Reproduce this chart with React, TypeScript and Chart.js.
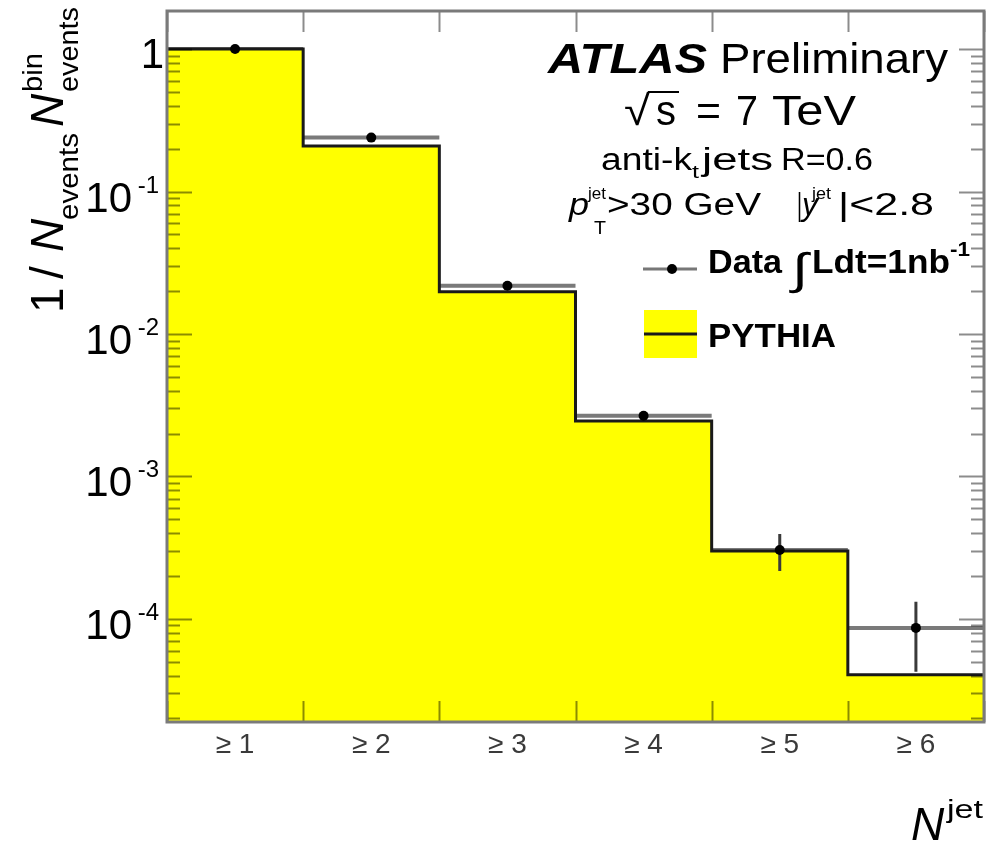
import React, { useEffect, useRef } from "react";
import { Chart, registerables } from "chart.js";

Chart.register(...registerables);

// ---------------- data ----------------
const categories = ["≥ 1", "≥ 2", "≥ 3", "≥ 4", "≥ 5", "≥ 6"];
const pythiaValues = [1.0, 0.209, 0.0198, 0.00245, 3.0e-4, 4.05e-5];
const dataValues = [1.0, 0.239, 0.0218, 0.00267, 3.05e-4, 8.65e-5];
const dataErrLow = [0.99, 0.233, 0.0212, 0.00257, 2.17e-4, 4.25e-5];
const dataErrHigh = [1.01, 0.245, 0.0224, 0.00277, 3.95e-4, 1.32e-4];
const yMajorTicks = [1, 1e-1, 1e-2, 1e-3, 1e-4];
const yTickExponents = ["", "-1", "-2", "-3", "-4"];
const Y_MIN = 1.89e-5;
const Y_MAX = 1.85;

const FONT = '"Liberation Sans", Arial, Helvetica, sans-serif';
const fnt = (size: number, weight = "normal", style = "normal") =>
  `${style} ${weight} ${size}px ${FONT}`;

function drawFit(
  ctx: CanvasRenderingContext2D,
  text: string,
  x0: number,
  x1: number,
  baseline: number,
  font: string,
  color = "#000"
) {
  ctx.save();
  ctx.font = font;
  ctx.textAlign = "left";
  ctx.textBaseline = "alphabetic";
  const w = ctx.measureText(text).width || 1;
  ctx.translate(x0, baseline);
  ctx.scale((x1 - x0) / w, 1);
  ctx.fillStyle = color;
  ctx.fillText(text, 0, 0);
  ctx.restore();
}

function drawText(
  ctx: CanvasRenderingContext2D,
  text: string,
  x: number,
  y: number,
  font: string,
  align: CanvasTextAlign = "left",
  color = "#000"
) {
  ctx.save();
  ctx.font = font;
  ctx.textAlign = align;
  ctx.textBaseline = "alphabetic";
  ctx.fillStyle = color;
  ctx.fillText(text, x, y);
  ctx.restore();
}

const decorPlugin = {
  id: "atlasDecor",
  afterDraw(chart: any) {
    const ctx: CanvasRenderingContext2D = chart.ctx;
    const { left, right, top, bottom } = chart.chartArea;
    const xs = chart.scales.x;
    const ys = chart.scales.y;
    ctx.save();

    // ---- ticks (y: both sides, log minor) ----
    ctx.strokeStyle = "rgba(0,0,0,0.45)";
    ctx.lineWidth = 2;
    for (let d = -5; d <= 0; d++) {
      for (let m = 1; m <= 9; m++) {
        const v = m * Math.pow(10, d);
        if (v < Y_MIN || v > Y_MAX) continue;
        const y = Math.round(ys.getPixelForValue(v)) + 0.5;
        const len = m === 1 ? 25 : 13;
        ctx.beginPath();
        ctx.moveTo(left, y);
        ctx.lineTo(left + len, y);
        ctx.moveTo(right, y);
        ctx.lineTo(right - len, y);
        ctx.stroke();
      }
    }
    // x ticks at bin edges
    for (let i = 0; i <= categories.length; i++) {
      const x = Math.round(xs.getPixelForValue(i)) + 0.5;
      ctx.beginPath();
      ctx.moveTo(x, bottom);
      ctx.lineTo(x, bottom - 21);
      ctx.moveTo(x, top);
      ctx.lineTo(x, top + 21);
      ctx.stroke();
    }

    // ---- frame ----
    ctx.strokeStyle = "#7a7a7a";
    ctx.lineWidth = 3;
    ctx.strokeRect(left, top, right - left, bottom - top);

    // ---- y tick labels ----
    yMajorTicks.forEach((v, i) => {
      const y = ys.getPixelForValue(v);
      if (yTickExponents[i] === "") {
        drawText(ctx, "1", 164, y + 19, fnt(42), "right");
      } else {
        drawText(ctx, "10", 132, y + 20, fnt(42), "right");
        drawText(ctx, yTickExponents[i], 159, y + 1, fnt(24), "right");
      }
    });

    // ---- x tick labels ----
    categories.forEach((c, i) => {
      const x = xs.getPixelForValue(i + 0.5);
      drawText(ctx, c, x, 753, fnt(28), "center", "#3a3a3a");
    });

    // ---- x axis title N^jet ----
    drawText(ctx, "N", 911, 840, fnt(46, "normal", "italic"));
    drawFit(ctx, "jet", 947, 983, 818, fnt(26));

    // ---- y axis title (rotated) ----
    ctx.save();
    ctx.rotate(-Math.PI / 2);
    // rotated frame: screen x = v, screen y = -u
    const rt = (t: string, u: number, v: number, font: string) => {
      ctx.font = font;
      ctx.textAlign = "left";
      ctx.textBaseline = "alphabetic";
      ctx.fillStyle = "#000";
      ctx.fillText(t, u, v);
    };
    const rfit = (t: string, yBottom: number, yTop: number, v: number, font: string) => {
      ctx.save();
      ctx.font = font;
      ctx.textAlign = "left";
      ctx.textBaseline = "alphabetic";
      const w = ctx.measureText(t).width || 1;
      ctx.translate(-yBottom, v);
      ctx.scale((yBottom - yTop) / w, 1);
      ctx.fillStyle = "#000";
      ctx.fillText(t, 0, 0);
      ctx.restore();
    };
    rt("1", -313, 63, fnt(46));
    rt("/", -279, 63, fnt(46));
    rt("N", -252, 63, fnt(46, "normal", "italic"));
    rfit("events", 220, 133, 78, fnt(28));
    rt("N", -127, 63, fnt(46, "normal", "italic"));
    rfit("bin", 92, 53, 42, fnt(28));
    rfit("events", 92, 7, 78, fnt(28));
    ctx.restore();

    // ---- annotations ----
    drawFit(ctx, "ATLAS", 548, 707, 73, fnt(43, "bold", "italic"));
    drawFit(ctx, "Preliminary", 720, 948, 73, fnt(43));

    drawFit(ctx, "√", 624, 650, 125, fnt(42));
    ctx.strokeStyle = "#000";
    ctx.lineWidth = 2;
    ctx.beginPath();
    ctx.moveTo(648, 92);
    ctx.lineTo(679, 92);
    ctx.stroke();
    drawFit(ctx, "s", 656, 676, 125, fnt(42));
    drawFit(ctx, "=", 696, 721, 125, fnt(42));
    drawFit(ctx, "7", 736, 758, 125, fnt(42));
    drawFit(ctx, "TeV", 772, 856, 125, fnt(42));

    drawFit(ctx, "anti-k", 601, 692, 170, fnt(31));
    drawFit(ctx, "t", 692, 699, 178, fnt(19));
    drawFit(ctx, "jets", 702, 773, 170, fnt(31));
    drawFit(ctx, "R=0.6", 781, 873, 170, fnt(31));

    drawFit(ctx, "p", 569, 589, 215, fnt(31, "normal", "italic"));
    drawFit(ctx, "jet", 588, 606, 199, fnt(17));
    drawFit(ctx, "T", 594, 606, 234, fnt(18));
    drawFit(ctx, ">30 GeV", 607, 761, 215, fnt(31));
    drawFit(ctx, "|", 797, 802, 215, fnt(31));
    drawFit(ctx, "y", 802, 818, 215, fnt(31, "normal", "italic"));
    drawFit(ctx, "jet", 812, 831, 199, fnt(17));
    drawFit(ctx, "|<2.8", 838, 934, 215, fnt(31));

    // ---- legend ----
    ctx.strokeStyle = "#777";
    ctx.lineWidth = 3;
    ctx.beginPath();
    ctx.moveTo(643, 269);
    ctx.lineTo(697, 269);
    ctx.stroke();
    ctx.fillStyle = "#000";
    ctx.beginPath();
    ctx.arc(672, 269, 5, 0, Math.PI * 2);
    ctx.fill();
    drawFit(ctx, "Data", 708, 782, 273, fnt(33, "bold"));
    drawFit(ctx, "∫", 792, 808, 284, fnt(44));
    drawFit(ctx, "Ldt=1nb", 812, 950, 273, fnt(33, "bold"));
    drawFit(ctx, "-1", 950, 970, 256, fnt(20, "bold"));

    ctx.fillStyle = "#ffff00";
    ctx.fillRect(644, 310, 53, 48);
    ctx.strokeStyle = "#1a1a1a";
    ctx.lineWidth = 3;
    ctx.beginPath();
    ctx.moveTo(644, 334);
    ctx.lineTo(697, 334);
    ctx.stroke();
    drawFit(ctx, "PYTHIA", 708, 836, 347, fnt(33, "bold"));

    ctx.restore();
  },
};

export default function App() {
  const canvasRef = useRef<HTMLCanvasElement | null>(null);

  useEffect(() => {
    if (!canvasRef.current) return;

    const pythiaPoints: { x: number; y: number | null }[] = [];
    pythiaValues.forEach((v, i) => {
      pythiaPoints.push({ x: i, y: v }, { x: i + 1, y: v });
    });
    const dataLinePoints: { x: number; y: number | null }[] = [];
    dataValues.forEach((v, i) => {
      dataLinePoints.push({ x: i, y: v }, { x: i + 1, y: v }, { x: i + 1, y: null });
    });
    const errPoints: { x: number; y: number | null }[] = [];
    dataValues.forEach((_v, i) => {
      errPoints.push(
        { x: i + 0.5, y: dataErrLow[i] },
        { x: i + 0.5, y: dataErrHigh[i] },
        { x: i + 0.5, y: null }
      );
    });
    const markerPoints = dataValues.map((v, i) => ({ x: i + 0.5, y: v }));

    const chart = new Chart(canvasRef.current, {
      type: "line",
      data: {
        datasets: [
          {
            label: "Data markers",
            data: markerPoints,
            showLine: false,
            pointRadius: 5,
            pointBackgroundColor: "#000",
            pointBorderColor: "#000",
            pointBorderWidth: 0,
          },
          {
            label: "Data errors",
            data: errPoints,
            borderColor: "#3a3a3a",
            borderWidth: 3,
            pointRadius: 0,
            spanGaps: false,
            fill: false,
          },
          {
            label: "PYTHIA",
            data: pythiaPoints,
            borderColor: "#1a1a1a",
            borderWidth: 3,
            backgroundColor: "#ffff00",
            fill: "start",
            pointRadius: 0,
            tension: 0,
          },
          {
            label: "Data",
            data: dataLinePoints,
            borderColor: "#7a7a7a",
            borderWidth: 4,
            pointRadius: 0,
            spanGaps: false,
            fill: false,
          },
        ],
      },
      options: {
        animation: false,
        responsive: false,
        devicePixelRatio: 1,
        layout: { padding: { left: 167, top: 11, right: 10, bottom: 119 } },
        plugins: { legend: { display: false }, tooltip: { enabled: false } },
        events: [],
        scales: {
          x: { type: "linear", min: 0, max: categories.length, display: false },
          y: { type: "logarithmic", min: Y_MIN, max: Y_MAX, display: false },
        },
      },
      plugins: [decorPlugin],
    });

    return () => chart.destroy();
  }, []);

  return (
    <div style={{ position: "absolute", left: 0, top: 0, width: 994, height: 841, background: "#fff" }}>
      <canvas ref={canvasRef} width={994} height={841} style={{ display: "block" }} />
    </div>
  );
}
